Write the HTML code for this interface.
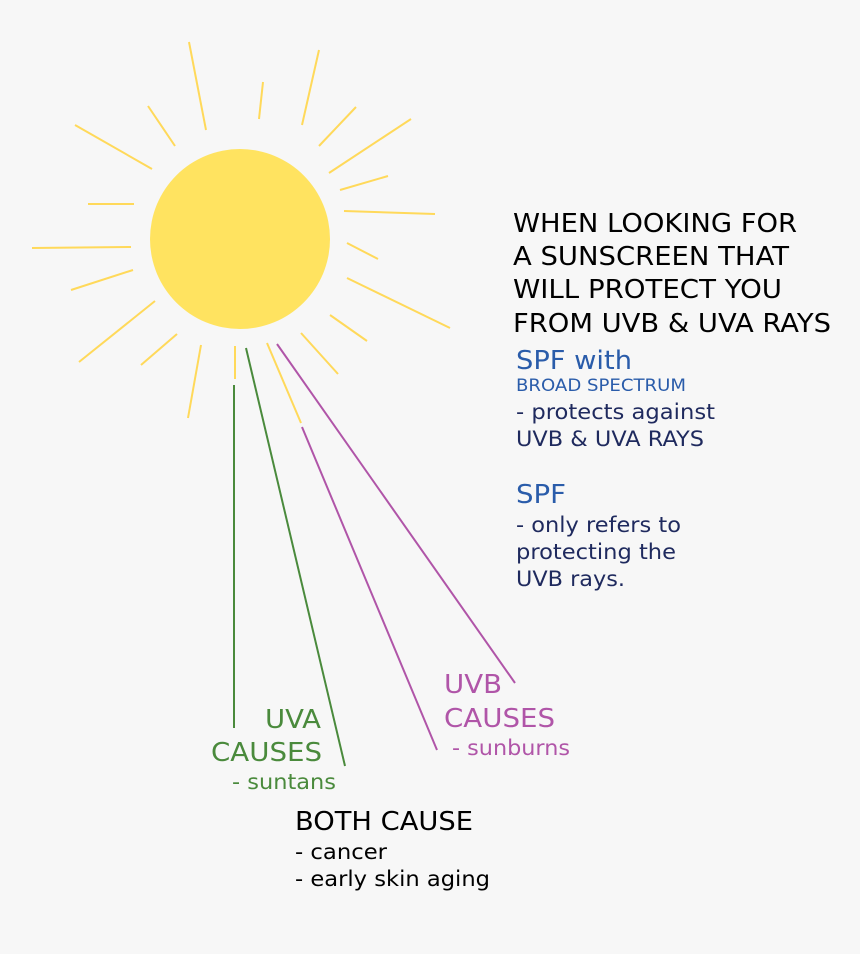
<!DOCTYPE html>
<html><head><meta charset="utf-8"><style>
html,body{margin:0;padding:0;background:#f7f7f7;}
svg{display:block}
text{font-family:"DejaVu Sans","Liberation Sans",sans-serif;}
</style></head><body>
<svg width="860" height="954" viewBox="0 0 860 954" xmlns="http://www.w3.org/2000/svg">
<rect width="860" height="954" fill="#f7f7f7"/>
<g stroke="#ffd95a" stroke-width="2" stroke-linecap="butt">
<line x1="189" y1="42" x2="206" y2="130"/>
<line x1="263" y1="82" x2="259" y2="119"/>
<line x1="319" y1="50" x2="302" y2="125"/>
<line x1="356" y1="107" x2="319" y2="146"/>
<line x1="411" y1="119" x2="329" y2="173"/>
<line x1="388" y1="176" x2="340" y2="190"/>
<line x1="344" y1="211" x2="435" y2="214"/>
<line x1="347" y1="243" x2="378" y2="259"/>
<line x1="347" y1="278" x2="450" y2="328"/>
<line x1="330" y1="315" x2="367" y2="341"/>
<line x1="301" y1="333" x2="338" y2="374"/>
<line x1="267" y1="343" x2="301" y2="423"/>
<line x1="235" y1="346" x2="235" y2="379"/>
<line x1="201" y1="345" x2="188" y2="418"/>
<line x1="177" y1="334" x2="141" y2="365"/>
<line x1="155" y1="301" x2="79" y2="362"/>
<line x1="133" y1="270" x2="71" y2="290"/>
<line x1="131" y1="247" x2="32" y2="248"/>
<line x1="134" y1="204" x2="88" y2="204"/>
<line x1="152" y1="169" x2="75" y2="125"/>
<line x1="175" y1="146" x2="148" y2="106"/>
</g>
<circle cx="240" cy="239" r="90" fill="#ffe360"/>
<g stroke="#4a8a3c" stroke-width="2">
<line x1="234" y1="385" x2="234" y2="728"/>
<line x1="246" y1="348" x2="345" y2="766"/>
</g>
<g stroke="#b055a8" stroke-width="2">
<line x1="277" y1="344" x2="515" y2="683"/>
<line x1="302" y1="427" x2="437" y2="750"/>
</g>
<g font-size="26" fill="#000">
<text x="513" y="232" textLength="284" lengthAdjust="spacingAndGlyphs">WHEN LOOKING FOR</text>
<text x="513" y="265" textLength="276" lengthAdjust="spacingAndGlyphs">A SUNSCREEN THAT</text>
<text x="513" y="298" textLength="269" lengthAdjust="spacingAndGlyphs">WILL PROTECT YOU</text>
<text x="513" y="332" textLength="318" lengthAdjust="spacingAndGlyphs">FROM UVB &amp; UVA RAYS</text>
</g>
<text x="516" y="369" font-size="26" fill="#2a5caa" textLength="116" lengthAdjust="spacingAndGlyphs">SPF with</text>
<text x="516" y="391" font-size="17" fill="#2a5caa" textLength="170" lengthAdjust="spacingAndGlyphs">BROAD SPECTRUM</text>
<g font-size="21" fill="#1f2a5e">
<text x="516" y="419" textLength="199" lengthAdjust="spacingAndGlyphs">- protects against</text>
<text x="516" y="446" textLength="188" lengthAdjust="spacingAndGlyphs">UVB &amp; UVA RAYS</text>
</g>
<text x="516" y="503" font-size="26" fill="#2a5caa" textLength="50" lengthAdjust="spacingAndGlyphs">SPF</text>
<g font-size="21" fill="#1f2a5e">
<text x="516" y="532" textLength="165" lengthAdjust="spacingAndGlyphs">- only refers to</text>
<text x="516" y="559" textLength="160" lengthAdjust="spacingAndGlyphs">protecting the</text>
<text x="516" y="586" textLength="109" lengthAdjust="spacingAndGlyphs">UVB rays.</text>
</g>
<g fill="#4a8a3c">
<text x="265" y="728" font-size="26" textLength="56" lengthAdjust="spacingAndGlyphs">UVA</text>
<text x="211" y="761" font-size="26" textLength="111" lengthAdjust="spacingAndGlyphs">CAUSES</text>
<text x="232" y="789" font-size="21" textLength="104" lengthAdjust="spacingAndGlyphs">- suntans</text>
</g>
<g fill="#b055a8">
<text x="444" y="693" font-size="26" textLength="58" lengthAdjust="spacingAndGlyphs">UVB</text>
<text x="444" y="727" font-size="26" textLength="111" lengthAdjust="spacingAndGlyphs">CAUSES</text>
<text x="452" y="755" font-size="21" textLength="118" lengthAdjust="spacingAndGlyphs">- sunburns</text>
</g>
<g fill="#000">
<text x="295" y="830" font-size="26" textLength="178" lengthAdjust="spacingAndGlyphs">BOTH CAUSE</text>
<text x="295" y="859" font-size="21" textLength="92" lengthAdjust="spacingAndGlyphs">- cancer</text>
<text x="295" y="886" font-size="21" textLength="195" lengthAdjust="spacingAndGlyphs">- early skin aging</text>
</g>
</svg>
</body></html>
